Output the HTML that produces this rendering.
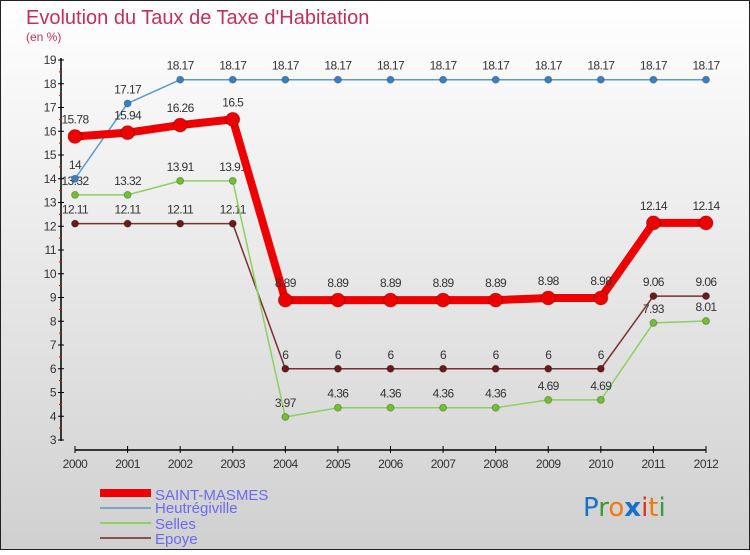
<!DOCTYPE html>
<html><head><meta charset="utf-8"><style>
html,body{margin:0;padding:0}
body{width:750px;height:550px;overflow:hidden;font-family:"Liberation Sans",sans-serif}
</style></head><body>
<svg width="750" height="550" xmlns="http://www.w3.org/2000/svg">
<defs><linearGradient id="bg" x1="0" y1="0" x2="0" y2="1"><stop offset="0" stop-color="#ffffff"/><stop offset="1" stop-color="#d0d0d0"/></linearGradient></defs>
<rect x="0.5" y="0.5" width="749" height="549" fill="url(#bg)" stroke="#222"/>
<text x="26" y="24" font-size="20" fill="#c0305a">Evolution du Taux de Taxe d'Habitation</text>
<text x="26" y="41" font-size="12" fill="#c0305a">(en %)</text>
<g id="axes"></g><g id="series"></g>
<g>
<rect x="100" y="489" width="51" height="8" fill="#e00"/>
<text x="155" y="500" font-size="15" fill="#6a6af0">SAINT-MASMES</text>
<rect x="100" y="507" width="51" height="2" fill="#7aa6c8"/>
<text x="155" y="513" font-size="15" fill="#6a6af0">Heutrégiville</text>
<rect x="100" y="522" width="51" height="2" fill="#8cd060"/>
<text x="155" y="529" font-size="15" fill="#6a6af0">Selles</text>
<rect x="100" y="537" width="51" height="2" fill="#8a5050"/>
<text x="155" y="544" font-size="15" fill="#6a6af0">Epoye</text>
</g>
<g font-size="26" font-family="'DejaVu Sans',sans-serif">
<text x="583" y="516"><tspan fill="#1a70c8">P</tspan><tspan fill="#3a9a3a">r</tspan><tspan fill="#f07a10">o</tspan><tspan fill="#1a70c8" font-weight="bold">x</tspan><tspan fill="#e03020">i</tspan><tspan fill="#f07a10">t</tspan><tspan fill="#3a9a3a">i</tspan></text>
</g>
</svg>
<script>
const years=[2000,2001,2002,2003,2004,2005,2006,2007,2008,2009,2010,2011,2012];
const yTicks=[3,4,5,6,7,8,9,10,11,12,13,14,15,16,17,18,19];
const saintMasmes=[15.78,15.94,16.26,16.5,8.89,8.89,8.89,8.89,8.89,8.98,8.98,12.14,12.14];
const heutregiville=[14,17.17,18.17,18.17,18.17,18.17,18.17,18.17,18.17,18.17,18.17,18.17,18.17];
const selles=[13.32,13.32,13.91,13.91,3.97,4.36,4.36,4.36,4.36,4.69,4.69,7.93,8.01];
const epoye=[12.11,12.11,12.11,12.11,6,6,6,6,6,6,6,9.06,9.06];
const NS="http://www.w3.org/2000/svg";
const X=i=>75+i*(706-75)/(years.length-1);
const Y=v=>440-(v-3)*(380/16);
function mk(tag,attrs,parent){const e=document.createElementNS(NS,tag);for(const k in attrs)e.setAttribute(k,attrs[k]);parent.appendChild(e);return e;}
const ax=document.getElementById('axes');
let yl=mk('line',{x1:61,y1:58,x2:61,y2:441,stroke:'#000','stroke-width':1.5},ax);


let xl=mk('line',{x1:75,y1:450,x2:706,y2:450,stroke:'#000','stroke-width':1.5},ax);


yTicks.forEach((v,i)=>{
 mk('line',{x1:58,x2:64,y1:Y(v),y2:Y(v),stroke:'#000'},ax);
 if(i<yTicks.length-1) mk('line',{x1:59,x2:62,y1:Y(v+0.5),y2:Y(v+0.5),stroke:'#e00'},ax);
 const t=mk('text',{x:56,y:Y(v)+4,'font-size':12,fill:'#333','text-anchor':'end','letter-spacing':'-0.5'},ax);
 t.textContent=v;
 
 
});
years.forEach((y,i)=>{
 mk('line',{x1:X(i),x2:X(i),y1:446,y2:453,stroke:'#000'},ax);
 const t=mk('text',{x:X(i),y:468,'font-size':12,fill:'#333','text-anchor':'middle','letter-spacing':'-0.5'},ax);
 t.textContent=y;
 
 
});
const sg=document.getElementById('series');
function series(data,name,color,w,r,dot){
 const g=mk('g',{},sg);
 
 
 mk('polyline',{points:data.map((v,i)=>X(i)+','+Y(v)).join(' '),fill:'none',stroke:color,'stroke-width':w,'stroke-linejoin':'round'},g);
 data.forEach((v,i)=>{
  const c=mk('circle',{cx:X(i),cy:Y(v),r:r,fill:dot,stroke:'rgba(0,0,0,0.25)'},g);
  
  
  const t=mk('text',{x:X(i),y:Y(v)-10-(r>5?3:0),'font-size':12,fill:'#333','text-anchor':'middle','letter-spacing':'-0.6'},g);
  t.textContent=v;
  
  
 });
}
series(epoye,'epoye','#7a3030',1.5,3.5,'#6a1a1a');
series(selles,'selles','#8cd060',1.5,3.5,'#70c030');
series(heutregiville,'heutregiville','#5a9ad0',1.5,3.5,'#3a80c0');
series(saintMasmes,'saint-masmes','#ee0000',8,7,'#ee0000');
</script>
</body></html>
